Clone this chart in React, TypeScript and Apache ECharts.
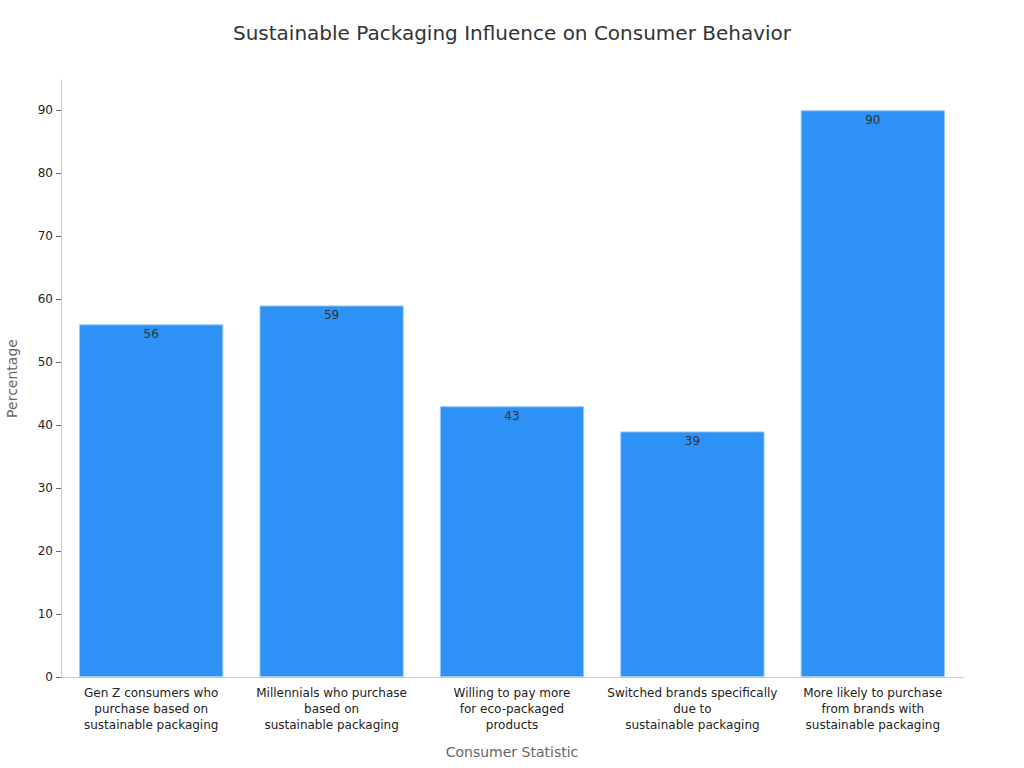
import { useEffect, useRef } from 'react'
import * as echarts from 'echarts'

const categories = [
  'Gen Z consumers who\npurchase based on\nsustainable packaging',
  'Millennials who purchase\nbased on\nsustainable packaging',
  'Willing to pay more\nfor eco-packaged\nproducts',
  'Switched brands specifically\ndue to\nsustainable packaging',
  'More likely to purchase\nfrom brands with\nsustainable packaging',
]
const values = [56, 59, 43, 39, 90]
const yTicks = [0, 10, 20, 30, 40, 50, 60, 70, 80, 90]

const FONT = '"DejaVu Sans", sans-serif'

export default function App() {
  const ref = useRef<HTMLDivElement>(null)

  useEffect(() => {
    document.body.style.margin = '0'
    if (!ref.current) return
    const c = echarts.init(ref.current, undefined, { renderer: 'svg' })
    c.setOption({
      animation: false,
      textStyle: { fontFamily: FONT },
      title: {
        text: 'Sustainable Packaging Influence on Consumer Behavior', left: 'center', top: 18,
        textStyle: { fontFamily: FONT, fontSize: 20, fontWeight: 'normal', color: '#333' },
      },
      grid: { left: 61, right: 61, top: 80, bottom: 91, outerBoundsMode: 'none', containLabel: false },
      xAxis: {
        type: 'category', data: categories,
        name: 'Consumer Statistic', nameLocation: 'middle', nameGap: 68,
        nameTextStyle: { fontFamily: FONT, fontSize: 14, color: '#666' },
        axisLine: { lineStyle: { color: '#ccc' } },
        axisTick: { alignWithLabel: true, length: 5, lineStyle: { color: '#666' } },
        axisLabel: { color: '#222', fontSize: 12, lineHeight: 16, interval: 0, margin: 8 },
      },
      yAxis: {
        type: 'value', min: 0, max: 94.8, interval: 10,
        name: 'Percentage', nameLocation: 'middle', nameGap: 42, nameRotate: 90,
        nameTextStyle: { fontFamily: FONT, fontSize: 14, color: '#666' },
        axisLine: { show: true, lineStyle: { color: '#ccc' } },
        axisTick: { show: true, length: 5, lineStyle: { color: '#666' }, customValues: yTicks },
        axisLabel: { color: '#222', fontSize: 12, customValues: yTicks },
        splitLine: { show: false },
      },
      series: [{
        type: 'bar', data: values, barCategoryGap: '20%',
        itemStyle: { color: '#2E91F5', borderColor: '#9CC8F5', borderWidth: 1 },
        label: { show: true, position: 'insideTop', distance: 4, color: '#333', fontSize: 12 },
      }],
    })
    return () => c.dispose()
  }, [])

  return <div ref={ref} style={{ width: 1024, height: 768 }} />
}
